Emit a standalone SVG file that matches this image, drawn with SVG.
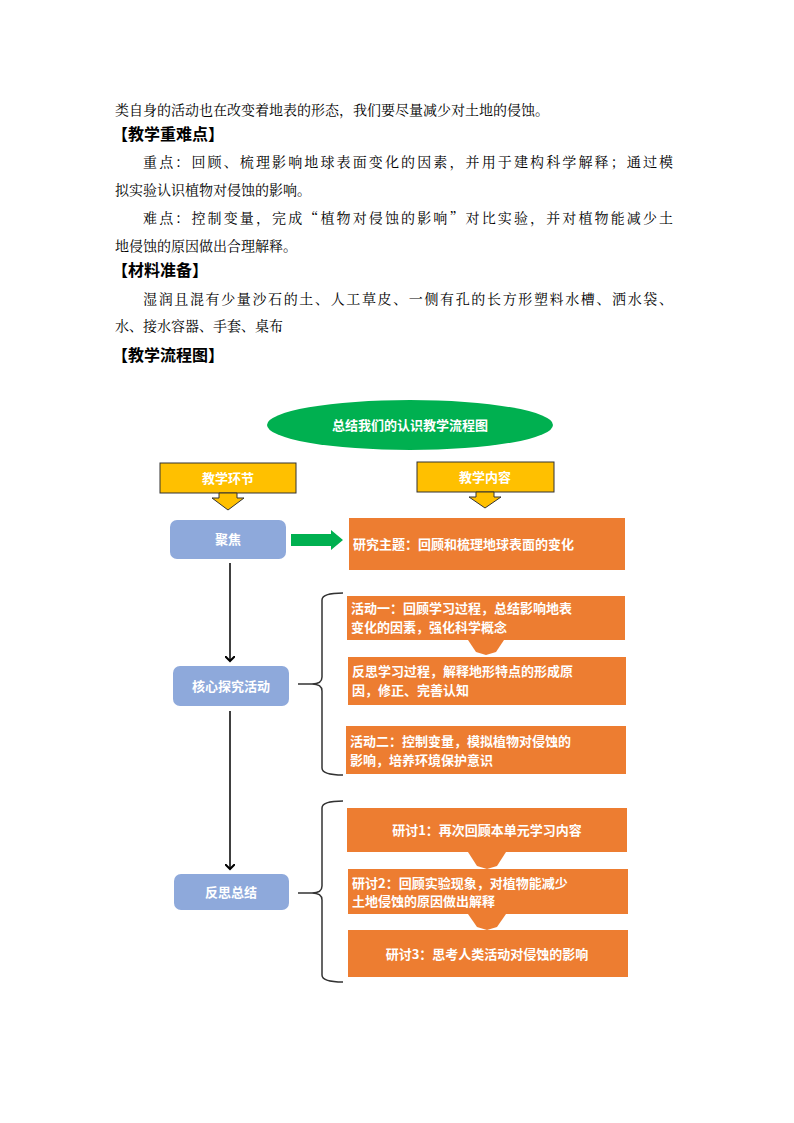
<svg xmlns="http://www.w3.org/2000/svg" width="794" height="1123" viewBox="0 0 794 1123">
<style>
.p{font-family:"Noto Serif CJK SC","Noto Sans CJK SC",serif;font-size:14px;fill:#000}
.h{font-family:"Noto Sans CJK SC",sans-serif;font-size:16px;font-weight:bold;fill:#000}
.w{font-family:"Noto Sans CJK SC",sans-serif;font-size:13px;font-weight:bold;fill:#fff}
.o{fill:#ED7D31}
.b{fill:#8EA9DB}
.y{fill:#FFC000;stroke:#333;stroke-width:1}
.br{fill:none;stroke:#333;stroke-width:1.5}
.ln{stroke:#000;stroke-width:1.5}
</style>
<defs>
<marker id="ah" markerWidth="10" markerHeight="10" refX="5" refY="5" orient="auto" markerUnits="userSpaceOnUse"><path d="M0,0 L5,5 L0,10" fill="none" stroke="#000" stroke-width="2"/></marker>
</defs>
<rect width="794" height="1123" fill="#fff"/>
<g id="text">
<text class="p" x="115" y="115">类自身的活动也在改变着地表的形态，我们要尽量减少对土地的侵蚀。</text>
<text class="h" x="112" y="140">【教学重难点】</text>
<text class="p" x="143" y="167" textLength="530" lengthAdjust="spacing">重点：回顾、梳理影响地球表面变化的因素，并用于建构科学解释；通过模</text>
<text class="p" x="115" y="195">拟实验认识植物对侵蚀的影响。</text>
<text class="p" x="143" y="223" textLength="530" lengthAdjust="spacing">难点：控制变量，完成“植物对侵蚀的影响”对比实验，并对植物能减少土</text>
<text class="p" x="115" y="251">地侵蚀的原因做出合理解释。</text>
<text class="h" x="112" y="276">【材料准备】</text>
<text class="p" x="143" y="304" textLength="530" lengthAdjust="spacing">湿润且混有少量沙石的土、人工草皮、一侧有孔的长方形塑料水槽、洒水袋、</text>
<text class="p" x="115" y="331">水、接水容器、手套、桌布</text>
<text class="h" x="112" y="361">【教学流程图】</text>
</g>
<g id="title"><ellipse cx="410" cy="425" rx="143" ry="25" fill="#00B050"/><text class="w" x="410" y="430" text-anchor="middle" font-size="14">总结我们的认识教学流程图</text></g>
<g id="h1"><rect class="y" x="160" y="463" width="136" height="30"/><text class="w" x="228" y="483" text-anchor="middle">教学环节</text><path class="y" d="M219,493 L237,493 L237,498 L244,498 L228,510 L212,498 L219,498Z"/></g>
<g id="h2"><rect class="y" x="417" y="462" width="137" height="30"/><text class="w" x="485" y="482" text-anchor="middle">教学内容</text><path class="y" d="M476,492 L494,492 L494,497 L501,497 L485,508 L469,497 L476,497Z"/></g>
<g id="n1"><rect class="b" x="170" y="520" width="116" height="39" rx="7"/><text class="w" x="228" y="544" text-anchor="middle">聚焦</text></g>
<g id="n2"><rect class="b" x="173" y="666" width="116" height="40" rx="7"/><text class="w" x="231" y="691" text-anchor="middle">核心探究活动</text></g>
<g id="n3"><rect class="b" x="174" y="874" width="115" height="36" rx="7"/><text class="w" x="231" y="897" text-anchor="middle">反思总结</text></g>
<g id="c0"><rect class="o" x="349" y="518" width="276" height="52"/><text class="w" x="353" y="549">研究主题：回顾和梳理地球表面的变化</text></g>
<g id="c1"><rect class="o" x="347" y="596" width="278" height="44"/><text class="w" x="351" y="613">活动一：回顾学习过程，总结影响地表</text><text class="w" x="351" y="632">变化的因素，强化科学概念</text></g>
<g id="c2"><rect class="o" x="348" y="657" width="278" height="48"/><text class="w" x="352" y="676">反思学习过程，解释地形特点的形成原</text><text class="w" x="352" y="695">因，修正、完善认知</text></g>
<g id="c3"><rect class="o" x="346" y="726" width="280" height="48"/><text class="w" x="350" y="746">活动二：控制变量，模拟植物对侵蚀的</text><text class="w" x="350" y="765">影响，培养环境保护意识</text></g>
<g id="d1"><rect class="o" x="347" y="808" width="280" height="44"/><text class="w" x="487" y="835" text-anchor="middle">研讨1：再次回顾本单元学习内容</text></g>
<g id="d2"><rect class="o" x="348" y="869" width="280" height="45"/><text class="w" x="352" y="888">研讨2：回顾实验现象，对植物能减少</text><text class="w" x="352" y="906">土地侵蚀的原因做出解释</text></g>
<g id="d3"><rect class="o" x="348" y="930" width="280" height="47"/><text class="w" x="487" y="959" text-anchor="middle">研讨3：思考人类活动对侵蚀的影响</text></g>
<g id="connectors">
<path class="o" d="M468,640 L504,640 L496,652 L486,655 L476,652Z"/>
<path class="o" d="M468,852 L506,852 L497,866 L487,869 L477,866Z"/>
<path class="o" d="M468,914 L506,914 L497,927 L487,930 L477,927Z"/>
<path d="M291,534 L331,534 L331,530 L343,540 L331,550 L331,546 L291,546Z" fill="#00B050"/>
<line class="ln" x1="230" y1="563" x2="230" y2="661" marker-end="url(#ah)"/>
<line class="ln" x1="230" y1="711" x2="230" y2="869" marker-end="url(#ah)"/>
<path class="br" d="M343,593 Q322,593 322,600 L322,677 Q322,684 312,684 L298,684 M312,684 Q322,684 322,691 L322,768 Q322,775 343,775"/>
<path class="br" d="M343,801 Q322,801 322,808 L322,886 Q322,893 312,893 L298,893 M312,893 Q322,893 322,900 L322,975 Q322,982 343,982"/>
</g>
</svg>
